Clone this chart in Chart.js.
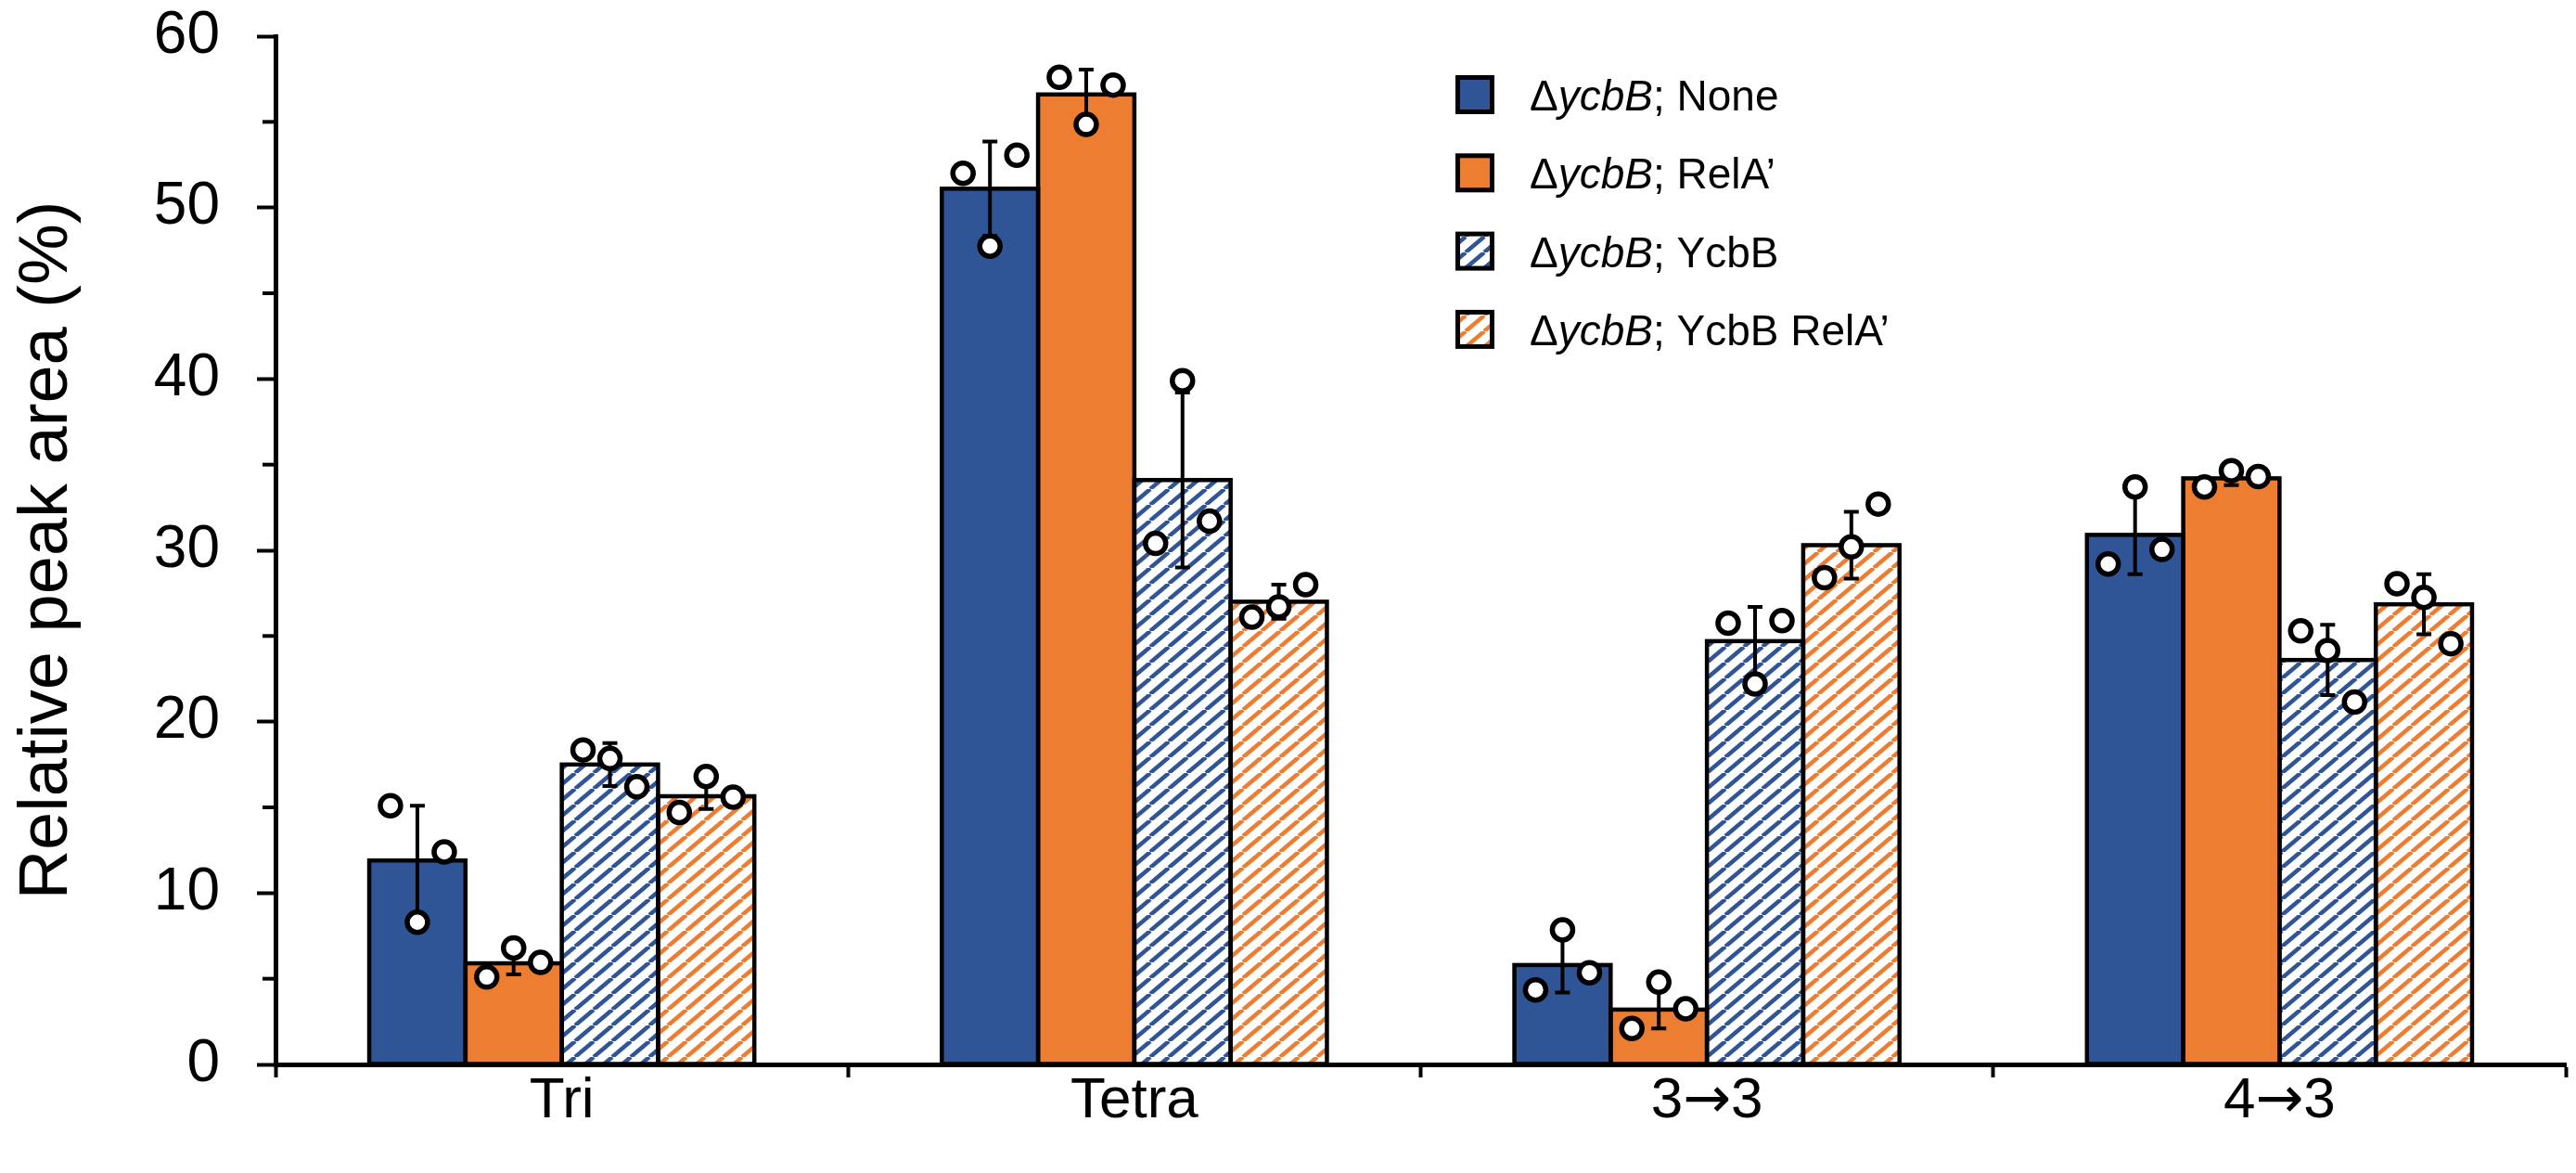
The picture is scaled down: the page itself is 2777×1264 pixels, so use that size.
<!DOCTYPE html>
<html lang="en">
<head>
  <meta charset="UTF-8" />
  <title>Relative peak area</title>
  <script src="https://cdn.jsdelivr.net/npm/chart.js"></script>
  <style>
    html, body { margin: 0; padding: 0; background: #fff; }
    .chart-box { width: 2777px; height: 1264px; position: relative; }
  </style>
</head>
<body>
  <div class="chart-box"><canvas id="peakChart"></canvas></div>

  <script>
    const categories = ["Tri", "Tetra", "3\u21923", "4\u21923"];
    const seriesNames = ["None", "RelA\u2019", "YcbB", "YcbB RelA\u2019"];

    // bar heights (mean)
    const meanNone = [11.9, 51.1, 5.8, 30.9];
    const meanRelA = [5.9, 56.6, 3.2, 34.2];
    const meanYcbB = [17.5, 34.1, 24.7, 23.6];
    const meanYcbBRelA = [15.65, 27.0, 30.3, 26.85];

    // error bars (SD)
    const sdNone = [3.2, 2.75, 1.6, 2.3];
    const sdRelA = [0.65, 1.45, 1.1, 0.4];
    const sdYcbB = [1.25, 5.1, 2.0, 2.05];
    const sdYcbBRelA = [0.75, 1.0, 1.95, 1.75];

    // replicates per category: [left, middle, right]
    const repNone = [[15.1, 8.3, 12.4], [52.0, 47.75, 53.05], [4.35, 7.85, 5.35], [29.2, 33.7, 30.05]];
    const repRelA = [[5.1, 6.8, 5.95], [57.6, 54.85, 57.15], [2.1, 4.8, 3.25], [33.7, 34.65, 34.3]];
    const repYcbB = [[18.35, 17.85, 16.2], [30.4, 39.9, 31.7], [25.75, 22.2, 25.9], [25.3, 24.15, 21.15]];
    const repYcbBRelA = [[14.7, 16.8, 15.6], [26.1, 26.7, 28.0], [28.4, 30.2, 32.7], [28.05, 27.25, 24.55]];

    const yTicks = [0, 10, 20, 30, 40, 50, 60];
    const yMinorTicks = [5, 15, 25, 35, 45, 55];

    const BLUE = "#2F5597";
    const ORANGE = "#ED7D31";
    const FONT = "'Liberation Sans', Arial, sans-serif";

    function hatch(color) {
      const c = document.createElement("canvas");
      c.width = 20; c.height = 17;
      const g = c.getContext("2d");
      g.fillStyle = "#fff";
      g.fillRect(0, 0, 20, 17);
      g.strokeStyle = color;
      g.lineWidth = 4.5;
      for (let k = -1; k <= 1; k++) {
        g.beginPath();
        g.moveTo(k * 20, 17);
        g.lineTo(k * 20 + 20, 0);
        g.stroke();
      }
      return g.createPattern(c, "repeat");
    }

    const fills = [BLUE, ORANGE, hatch(BLUE), hatch(ORANGE)];
    const means = [meanNone, meanRelA, meanYcbB, meanYcbBRelA];
    const sds = [sdNone, sdRelA, sdYcbB, sdYcbBRelA];
    const reps = [repNone, repRelA, repYcbB, repYcbBRelA];

    const CAT_PCT = 0.6726;
    const jitter = 0.047;   // replicate spread, fraction of a category

    const barSets = means.map((m, j) => ({
      label: seriesNames[j],
      data: m,
      backgroundColor: fills[j],
      borderWidth: 0,
      categoryPercentage: CAT_PCT,
      barPercentage: 1
    }));

    // outlines, error bars and replicate dots on top of the bars
    const barDecor = {
      id: "barDecor",
      afterDatasetsDraw(chart) {
        const ctx = chart.ctx;
        const y = chart.scales.y;
        const x = chart.scales.x;
        const catW = x.getPixelForTick(1) - x.getPixelForTick(0);
        ctx.save();
        ctx.strokeStyle = "#000";
        for (let j = 0; j < means.length; j++) {
          chart.getDatasetMeta(j).data.forEach(bar => {
            ctx.lineWidth = 4.5;
            ctx.strokeRect(bar.x - bar.width / 2, bar.y, bar.width, bar.base - bar.y);
          });
        }
        for (let j = 0; j < means.length; j++) {
          chart.getDatasetMeta(j).data.forEach((bar, i) => {
            const top = y.getPixelForValue(means[j][i] + sds[j][i]);
            const bot = y.getPixelForValue(means[j][i] - sds[j][i]);
            ctx.lineWidth = 4;
            ctx.beginPath();
            ctx.moveTo(bar.x, top); ctx.lineTo(bar.x, bot);
            ctx.moveTo(bar.x - 8, top); ctx.lineTo(bar.x + 8, top);
            ctx.moveTo(bar.x - 8, bot); ctx.lineTo(bar.x + 8, bot);
            ctx.stroke();
          });
        }
        for (let j = 0; j < means.length; j++) {
          chart.getDatasetMeta(j).data.forEach((bar, i) => {
            reps[j][i].forEach((v, k) => {
              const px = bar.x + (k - 1) * jitter * catW;
              const py = y.getPixelForValue(v);
              ctx.beginPath();
              ctx.arc(px, py, 11, 0, Math.PI * 2);
              ctx.fillStyle = "#fff";
              ctx.fill();
              ctx.lineWidth = 5.5;
              ctx.stroke();
            });
          });
        }
        ctx.restore();
      }
    };

    const extras = {
      id: "extras",
      afterDraw(chart) {
        const ctx = chart.ctx;
        const y = chart.scales.y;
        const x = chart.scales.x;
        const left = chart.chartArea.left;
        ctx.save();
        // minor ticks
        ctx.strokeStyle = "#000";
        ctx.lineWidth = 4;
        yMinorTicks.forEach(v => {
          const py = y.getPixelForValue(v);
          ctx.beginPath();
          ctx.moveTo(left - 14, py); ctx.lineTo(left, py);
          ctx.stroke();
        });
        // category labels (arrow from DejaVu, it is longer)
        ctx.fillStyle = "#000";
        ctx.textBaseline = "alphabetic";
        categories.forEach((lab, i) => {
          const parts = lab.split("\u2192");
          const cx = x.getPixelForTick(i);
          const base = chart.chartArea.bottom + 57;
          const seg = [];
          parts.forEach((p, n) => {
            if (n > 0) seg.push({ t: "\u2192", f: "62px 'DejaVu Sans'" });
            seg.push({ t: p, f: "62px " + FONT });
          });
          let total = 0;
          seg.forEach(s => { ctx.font = s.f; s.w = ctx.measureText(s.t).width; total += s.w; });
          let tx = cx - total / 2;
          seg.forEach(s => { ctx.font = s.f; ctx.fillText(s.t, tx, base); tx += s.w; });
        });
        // legend
        const lx = 1569, ly0 = 102, lstep = 84.3;
        seriesNames.forEach((name, j) => {
          const cy = ly0 + j * lstep;
          ctx.fillStyle = fills[j];
          ctx.fillRect(lx + 2.5, cy - 18.5, 37, 37);
          ctx.lineWidth = 5;
          ctx.strokeStyle = "#000";
          ctx.strokeRect(lx + 2.5, cy - 18.5, 37, 37);
          let tx = 1649;
          const base = cy + 17;
          ctx.fillStyle = "#000";
          ctx.font = "46px " + FONT;
          ctx.fillText("\u0394", tx, base);
          tx += ctx.measureText("\u0394").width;
          ctx.font = "italic 46px " + FONT;
          ctx.fillText("ycbB", tx, base);
          tx += ctx.measureText("ycbB").width;
          ctx.font = "46px " + FONT;
          ctx.fillText("; " + name, tx, base);
        });
        ctx.restore();
      }
    };

    new Chart(document.getElementById("peakChart"), {
      type: "bar",
      data: {
        labels: categories,
        datasets: barSets
      },
      options: {
        responsive: true,
        maintainAspectRatio: false,
        animation: false,
        layout: { padding: { top: 39, right: 11, left: 0, bottom: 0 } },
        plugins: {
          legend: { display: false },
          tooltip: { enabled: false }
        },
        scales: {
          x: {
            offset: true,
            grid: { offset: true, drawOnChartArea: false, tickLength: 14, tickWidth: 4, color: "#000" },
            border: { color: "#000", width: 5 },
            ticks: { display: false },
            afterFit: s => { s.height = 117; s.paddingLeft = 0; s.paddingRight = 0; }
          },
          y: {
            min: 0,
            max: 60,
            afterBuildTicks: s => { s.ticks = yTicks.map(v => ({ value: v })); },
            ticks: { color: "#000", font: { family: FONT, size: 64 }, padding: 40 },
            grid: { drawOnChartArea: false, tickLength: 20, tickWidth: 4, color: "#000" },
            border: { color: "#000", width: 5 },
            title: {
              display: true,
              text: "Relative peak area (%)",
              color: "#000",
              font: { family: FONT, size: 74 },
              padding: { top: 7, bottom: 0 }
            },
            afterFit: s => { s.width = 297; s.paddingTop = 0; s.paddingBottom = 0; }
          }
        }
      },
      plugins: [barDecor, extras]
    });
  </script>
</body>
</html>
